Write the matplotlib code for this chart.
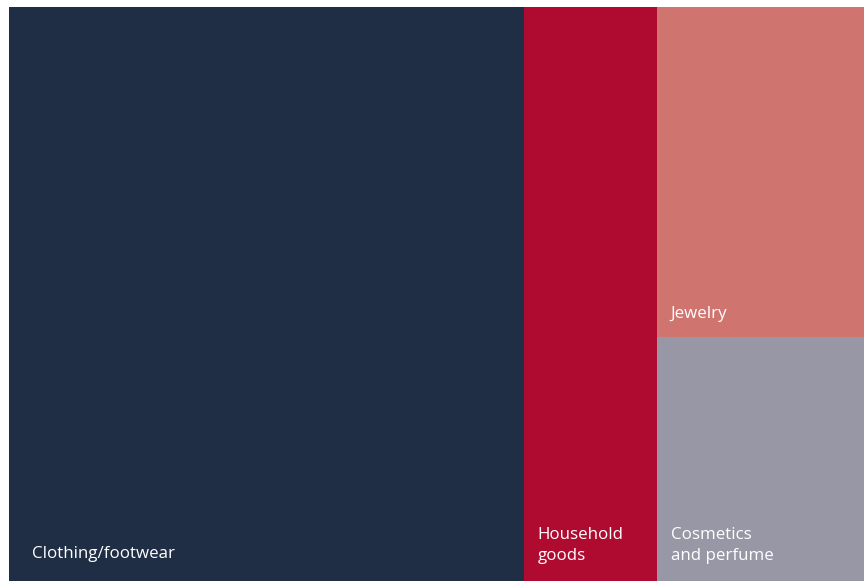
import matplotlib
matplotlib.use("Agg")
import matplotlib.pyplot as plt
from matplotlib.patches import Rectangle
from matplotlib.transforms import offset_copy

# Data (share of total, %)
categories = ["Clothing/footwear", "Household\ngoods", "Jewelry", "Cosmetics\nand perfume"]
values = [60.2, 15.6, 13.9, 10.3]
colors = ["#1F2E44", "#AF0A30", "#D07470", "#9897A5"]

W, H = 864, 581
dpi = 100
fig = plt.figure(figsize=(W / dpi, H / dpi), dpi=dpi)
fig.patch.set_facecolor("white")

# axes region in pixels: x 9..864, y 7..581
ax = fig.add_axes([9 / W, 0, (W - 9) / W, (H - 7) / H])
ax.set_xlim(0, 1)
ax.set_ylim(0, 1)
ax.axis("off")

total = sum(values)
rects = []
x = 0.0
for v in values[:2]:
    w = v / total
    rects.append((x, 0.0, w, 1.0))
    x += w
rest = sum(values[2:])
wcol = rest / total
h_top = values[2] / rest
rects.append((x, 1.0 - h_top, wcol, h_top))
rects.append((x, 0.0, wcol, values[3] / rest))

insets = [23, 14, 13, 14]
bottoms = [23, 21, 19, 21]
for (rx, ry, rw, rh), c, lab, ix, by in zip(rects, colors, categories, insets, bottoms):
    ax.add_patch(Rectangle((rx, ry), rw, rh, facecolor=c, edgecolor="none"))
    tr = offset_copy(ax.transData, fig=fig, x=ix * 72 / dpi, y=by * 72 / dpi, units="points")
    ax.text(rx, ry, lab, transform=tr, color="white", fontsize=12.2,
            family=["Open Sans", "DejaVu Sans"], ha="left", va="baseline",
            linespacing=1.38)

fig.savefig("out.png", dpi=dpi, facecolor="white")
